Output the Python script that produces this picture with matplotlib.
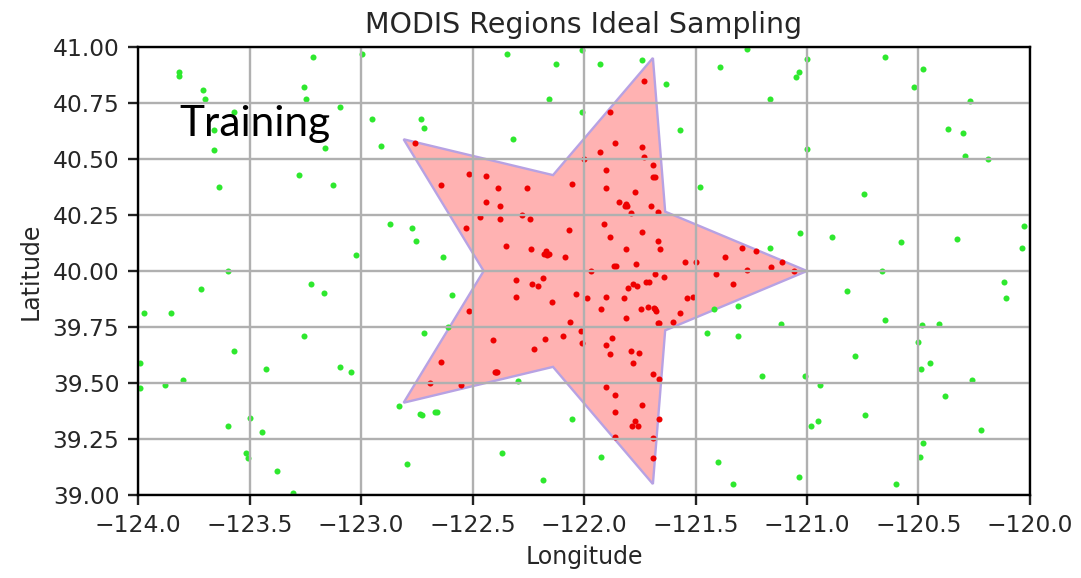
import matplotlib
matplotlib.use("Agg")
import matplotlib.pyplot as plt
from matplotlib.patches import Polygon

# Star region vertices (lon, lat)
star_lon = [-121.000, -121.636, -121.691, -122.139, -122.809, -122.450, -122.809, -122.139, -121.691, -121.636]
star_lat = [40.000, 40.265, 40.951, 40.428, 40.588, 40.000, 39.412, 39.572, 39.049, 39.735]

# Points outside the region (green)
green_lon = [-123.815, -123.815, -123.71, -123.70, -123.215, -122.997, -123.256, -123.248, -123.096, -123.571,
             -123.66, -123.16, -123.66, -122.95, -122.73, -122.716, -122.91, -123.28, -123.127, -123.635,
             -122.87, -122.77, -122.755, -123.024,
             -122.344, -122.01, -122.126, -121.93, -121.74, -121.39, -121.632, -122.158, -122.01, -121.57,
             -122.32, -121.48, -122.634,
             -121.27, -121.0, -121.035, -121.05, -121.165, -120.65, -120.48, -120.52, -120.27, -120.367,
             -120.30, -120.29, -120.19, -121.0, -120.744, -121.03, -120.89, -120.58, -120.326, -120.027,
             -120.035, -121.165,
             -120.665, -120.115, -120.106, -120.82, -121.31, -121.117, -120.65, -120.486, -120.41, -121.31,
             -120.50, -120.786, -120.447, -120.49, -121.2, -121.01, -120.94, -120.26, -120.38, -120.74,
             -120.95, -120.98, -120.22, -120.48, -120.495, -121.036, -121.33, -120.60,
             -123.595, -123.716, -123.975, -123.853, -123.224, -123.167, -122.716, -123.256, -123.57, -123.99,
             -123.426, -123.096, -123.046, -123.797, -123.88, -123.99, -123.50, -123.595, -123.443, -123.516,
             -123.508, -123.377, -123.305, -122.83, -122.735, -122.725, -122.67, -122.795,
             -122.593, -122.608, -122.296, -122.658, -122.054, -122.37, -121.925, -122.183, -121.417, -121.45,
             -121.40]
green_lat = [40.89, 40.87, 40.81, 40.77, 40.957, 40.97, 40.82, 40.77, 40.73, 40.71,
             40.63, 40.55, 40.54, 40.68, 40.68, 40.64, 40.56, 40.43, 40.385, 40.376,
             40.21, 40.19, 40.135, 40.07,
             40.97, 40.987, 40.924, 40.924, 40.94, 40.91, 40.835, 40.77, 40.71, 40.63,
             40.59, 40.376, 40.064,
             40.99, 40.946, 40.89, 40.867, 40.77, 40.957, 40.90, 40.82, 40.76, 40.634,
             40.617, 40.513, 40.50, 40.546, 40.345, 40.17, 40.153, 40.128, 40.143, 40.20,
             40.103, 40.104,
             40.0, 39.95, 39.878, 39.91, 39.845, 39.765, 39.78, 39.758, 39.765, 39.71,
             39.684, 39.62, 39.59, 39.564, 39.533, 39.533, 39.49, 39.515, 39.443, 39.356,
             39.332, 39.307, 39.29, 39.234, 39.17, 39.08, 39.05, 39.05,
             40.0, 39.918, 39.814, 39.814, 39.943, 39.90, 39.725, 39.71, 39.644, 39.59,
             39.564, 39.573, 39.55, 39.515, 39.49, 39.476, 39.345, 39.307, 39.283, 39.186,
             39.164, 39.106, 39.01, 39.396, 39.363, 39.356, 39.37, 39.137,
             39.893, 39.75, 39.51, 39.372, 39.34, 39.186, 39.17, 39.066, 39.83, 39.725,
             39.146]

# Points inside the region (red)
red_lon = [-122.76,
           -121.731, -121.883, -121.86, -121.739, -121.93, -121.73, -121.69, -121.69, -121.68, -121.90,
           -121.90, -121.77, -121.845, -121.81, -121.805, -121.815, -121.79, -121.70, -121.67, -122.054,
           -122.257, -122.384, -122.44, -122.514, -122.643, -122.44, -122.377, -122.466, -122.377, -122.28,
           -122.24, -122.53, -122.069, -121.91, -121.883, -121.74, -121.67, -121.66, -121.81, -122.35,
           -122.238, -122.17, -122.18, -122.165, -122.155, -122.087, -121.865, -121.855, -121.765, -121.546,
           -121.50, -121.368, -121.97, -122.0,
           -121.293, -121.23, -121.11, -121.16, -121.27, -121.06, -121.33, -122.69,
           -122.305, -122.232, -122.208, -122.183, -122.305, -122.142, -122.037, -121.988, -121.90, -121.821,
           -121.804, -121.779, -121.762, -121.72, -121.71, -121.68, -121.64, -121.537, -121.51, -121.408,
           -121.925, -121.812, -121.746, -121.712, -121.68, -121.675, -121.685, -121.57, -121.60, -121.67,
           -121.665, -122.063, -122.013, -122.007, -122.096, -122.175, -122.224, -122.41, -121.876, -121.90,
           -121.883, -121.788, -121.755, -121.779, -121.69, -121.665, -121.90, -121.86, -121.86, -121.74,
           -121.77, -121.787, -121.76, -121.665, -121.86, -121.69, -121.692, -122.516, -122.643, -122.40,
           -122.395, -122.39, -122.553]
red_lat = [40.57,
           40.85, 40.71, 40.57, 40.555, 40.53, 40.508, 40.473, 40.418, 40.418, 40.45,
           40.37, 40.353, 40.31, 40.30, 40.29, 40.29, 40.26, 40.29, 40.263, 40.39,
           40.37, 40.37, 40.424, 40.433, 40.385, 40.31, 40.29, 40.24, 40.23, 40.25,
           40.23, 40.193, 40.183, 40.21, 40.152, 40.175, 40.135, 40.10, 40.10, 40.11,
           40.097, 40.09, 40.076, 40.072, 40.075, 40.064, 40.024, 40.024, 40.03, 40.04,
           40.04, 40.064, 40.0, 40.5,
           40.104, 40.09, 40.04, 40.016, 40.005, 40.0, 39.94, 39.50,
           39.958, 39.943, 39.934, 39.967, 39.885, 39.863, 39.896, 39.878, 39.885, 39.878,
           39.925, 39.943, 39.934, 39.95, 39.952, 39.988, 39.973, 39.878, 39.885, 39.988,
           39.83, 39.789, 39.83, 39.838, 39.83, 39.822, 39.835, 39.814, 39.774, 39.767,
           39.767, 39.774, 39.732, 39.677, 39.71, 39.695, 39.653, 39.693, 39.702, 39.67,
           39.628, 39.644, 39.635, 39.59, 39.54, 39.517, 39.484, 39.445, 39.372, 39.40,
           39.33, 39.307, 39.307, 39.34, 39.26, 39.253, 39.164, 39.823, 39.595, 39.55,
           39.55, 39.55, 39.49]

x_ticks = [-124.0, -123.5, -123.0, -122.5, -122.0, -121.5, -121.0, -120.5, -120.0]
y_ticks = [39.00, 39.25, 39.50, 39.75, 40.00, 40.25, 40.50, 40.75, 41.00]

plt.rcParams['font.family'] = ['DejaVu Sans']

fig = plt.figure(figsize=(10.81, 5.78), dpi=100)
ax = fig.add_axes([0.1277, 0.1436, 0.8251, 0.7751])

star = Polygon(list(zip(star_lon, star_lat)), closed=True, facecolor=(1.0, 0.0, 0.0, 0.3),
               edgecolor="#b7a2e3", linewidth=1.7, zorder=1)
ax.add_patch(star)
ax.scatter(green_lon, green_lat, s=19, color="#2ee82e", linewidths=0, zorder=1)
ax.scatter(red_lon, red_lat, s=19, color="#ee0000", linewidths=0, zorder=1)

ax.set_xlim(-124, -120)
ax.set_ylim(39, 41)
ax.set_xticks(x_ticks)
ax.set_yticks(y_ticks)
ax.set_xticklabels([f"\u2212{abs(v):.1f}" for v in x_ticks])
ax.set_yticklabels([f"{v:.2f}" for v in y_ticks])
ax.grid(True, color="#b0b0b0", linewidth=1.7)
ax.tick_params(labelsize=16.8, length=7.5, width=1.7, colors="#222222", labelcolor="#262626", pad=6)
for sp in ax.spines.values():
    sp.set_linewidth(1.7)
ax.set_title("MODIS Regions Ideal Sampling", fontsize=20.5, color="#262626", pad=10)
ax.set_xlabel("Longitude", fontsize=17, color="#262626", labelpad=6)
ax.set_ylabel("Latitude", fontsize=17, color="#262626", labelpad=7)

ax.text(-123.815, 40.603, "Training", fontsize=30.5, family="Lato", color="black",
        va="baseline", ha="left", zorder=5)

fig.savefig("out.png", dpi=100)
